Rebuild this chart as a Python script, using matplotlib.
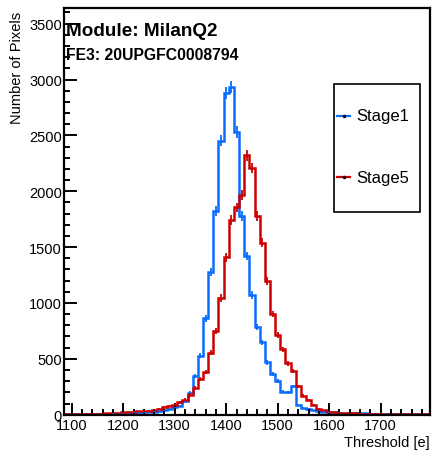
import numpy as np
import matplotlib
matplotlib.use('Agg')
import matplotlib.pyplot as plt
from matplotlib.patches import Rectangle
from matplotlib.lines import Line2D
from matplotlib.ticker import MultipleLocator

plt.rcParams['font.family'] = ['Liberation Sans', 'DejaVu Sans']

# ---- data ----
bin_width = 10
threshold_centers = np.arange(1090, 1800, bin_width)
stage1 = [2, 3, 2, 3, 4, 5, 5, 6, 8, 8,
          10, 12, 14, 16, 18, 20, 22, 28, 35, 40,
          55, 65, 80, 120, 195, 343, 528, 862, 1280, 1822,
          2452, 2880, 2930, 2530, 1780, 1422, 1071, 782, 647, 468,
          364, 304, 205, 200, 254, 85, 60, 55, 38, 35,
          25, 22, 20, 18, 15, 15, 14, 12, 12, 10,
          10, 8, 8, 7, 6, 6, 5, 4, 4, 3, 3]
stage5 = [5, 5, 6, 7, 8, 8, 9, 10, 12, 15,
          18, 22, 25, 28, 30, 32, 35, 45, 55, 66,
          78, 90, 110, 135, 180, 240, 320, 383, 555, 751,
          1045, 1408, 1744, 1855, 1965, 2320, 2210, 1780, 1540, 1199,
          901, 715, 585, 460, 390, 254, 170, 130, 85, 51,
          38, 27, 22, 18, 15, 12, 12, 10, 10, 8,
          8, 8, 6, 6, 6, 5, 5, 5, 4, 4, 4]
series_labels = ['Stage1', 'Stage5']
series_colors = ['#0a6cff', '#cc0000']
title = 'Module: MilanQ2'
subtitle = 'FE3: 20UPGFC0008794'
x_label = 'Threshold [e]'
y_label = 'Number of Pixels'

W, H = 432, 456
fig = plt.figure(figsize=(W / 100, H / 100), dpi=100)
fig.patch.set_facecolor('white')

L, R, T, B = 64, 429.6, 9, 415.7
ax = fig.add_axes([L / W, 1 - B / H, (R - L) / W, (B - T) / H])

edges = np.append(threshold_centers - bin_width / 2, threshold_centers[-1] + bin_width / 2)
for vals, col in zip([stage1, stage5], series_colors):
    v = np.array(vals, dtype=float)
    ax.stairs(v, edges, baseline=None, color=col, linewidth=1.8)
    ax.errorbar(threshold_centers, v, yerr=np.sqrt(v), fmt='none', ecolor=col, elinewidth=1.3)

ax.set_xlim(edges[0], edges[-1])
ax.set_ylim(0, 3640)

ax.xaxis.set_major_locator(MultipleLocator(100))
ax.xaxis.set_minor_locator(MultipleLocator(20))
ax.yaxis.set_major_locator(MultipleLocator(500))
ax.yaxis.set_minor_locator(MultipleLocator(100))
ax.tick_params(axis='both', which='both', direction='in', top=False, right=False,
               width=1.4, color='black', labelsize=10.5)
ax.tick_params(axis='x', which='major', length=8.5, pad=2.5)
ax.tick_params(axis='x', which='minor', length=4.3)
ax.tick_params(axis='y', which='major', length=9.3, pad=1.5)
ax.tick_params(axis='y', which='minor', length=4.0)
for s in ax.spines.values():
    s.set_linewidth(1.6)
    s.set_color('black')

def fx(px):
    return px / W

def fy(py):
    return 1 - py / H

fig.text(fx(66), fy(35.5), title, fontsize=13.6, fontweight='bold', ha='left', va='baseline')
fig.text(fx(66), fy(60), subtitle, fontsize=11.3, fontweight='bold', ha='left', va='baseline')
fig.text(fx(430), fy(443), x_label, fontsize=10.5, ha='right', va='center')
fig.text(fx(17), fy(12), y_label, fontsize=10.5, ha='center', va='top', rotation=90)

# legend box
fig.patches.append(Rectangle((fx(334), fy(213)), (420 - 334) / W, (213 - 85) / H,
                             transform=fig.transFigure, facecolor='white',
                             edgecolor='black', linewidth=1.2))
for lab, col, py in zip(series_labels, series_colors, [117, 178]):
    fig.lines.append(Line2D([fx(337), fx(350)], [fy(py), fy(py)], transform=fig.transFigure,
                            color=col, linewidth=1.6))
    fig.lines.append(Line2D([fx(343.5)], [fy(py)], transform=fig.transFigure,
                            marker='o', markersize=1.5, color='black', linestyle='none'))
    fig.text(fx(356), fy(py), lab, fontsize=12, ha='left', va='center')

fig.savefig('out.png', dpi=100)
